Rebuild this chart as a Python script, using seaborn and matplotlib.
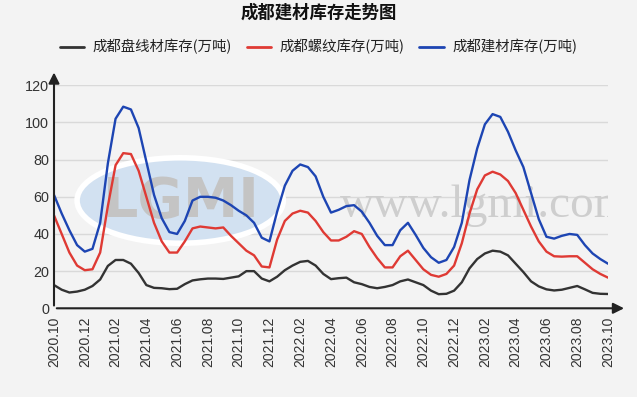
import numpy as np
import pandas as pd
import matplotlib
matplotlib.use("Agg")
import matplotlib.pyplot as plt
import seaborn as sns
from matplotlib.lines import Line2D
from matplotlib.patches import Ellipse

# tick labels, one every two months
tick_labels = ["2020.10", "2020.12", "2021.02", "2021.04", "2021.06", "2021.08",
               "2021.10", "2021.12", "2022.02", "2022.04", "2022.06", "2022.08",
               "2022.10", "2022.12", "2023.02", "2023.04", "2023.06", "2023.08",
               "2023.10"]

# readings every half month from 2020.10 to 2023.10 (万吨)
wire = [12.5, 10, 8.5, 9, 10, 12, 15.5, 22.8, 26, 26, 24, 19, 12.5, 11, 10.8, 10.3,
        10.5, 13, 15, 15.6, 16, 16, 15.8, 16.5, 17.2, 20, 20, 16, 14.5, 17, 20.5,
        23, 25, 25.5, 23, 18.5, 15.7, 16.2, 16.5, 14, 13, 11.5, 10.8, 11.5, 12.5,
        14.5, 15.5, 14, 12.5, 9.5, 7.6, 7.8, 9.5, 14, 21.5, 26.5, 29.5, 31, 30.5,
        28.5, 24, 19.5, 14.5, 11.8, 10.2, 9.6, 10, 11, 12, 10.2, 8.3, 7.8, 7.7]

rebar = [50, 40, 30, 23, 20.5, 21, 30, 55, 77, 83.5, 83, 74, 60, 46, 36, 30, 30,
         36, 43, 44, 43.5, 43, 43.5, 39, 35, 31, 28.5, 22.5, 22, 37, 47, 51, 52.5,
         51.5, 47, 41, 36.5, 36.5, 38.5, 41.5, 40, 33, 27, 22, 22, 28, 31, 26, 21,
         18, 17, 18.5, 23, 35, 51, 64, 71.5, 73.5, 72, 68.5, 62, 53, 44, 36, 30.5,
         28, 27.8, 28, 28, 24.5, 21, 18.5, 16.5]

total = [61, 51, 42, 34, 30.5, 32, 46, 78, 102, 108.5, 107, 97, 79, 61, 48.5, 41,
         40, 47, 58, 60, 60, 59.5, 58, 55.5, 52.5, 50, 46, 38, 36, 52, 66, 74, 77.4,
         76, 71, 60, 51.5, 53, 55, 55.5, 52, 46, 39, 34, 34, 42, 46, 39.5, 32.5,
         27.5, 24.5, 26, 33, 46, 69, 86, 99, 104.5, 103, 95, 85, 76, 62, 48, 38.5,
         37.5, 39, 40, 39.5, 34, 29.5, 26.5, 24]

names = ["成都盘线材库存(万吨)", "成都螺纹库存(万吨)", "成都建材库存(万吨)"]
colors = ["#333333", "#df3a34", "#1d45b3"]

months = np.arange(len(total)) * 0.5
df = pd.DataFrame({
    "month": np.tile(months, 3),
    "value": wire + rebar + total,
    "series": np.repeat(names, len(months)),
})

sns.set_theme(style="white")
plt.rcParams["font.family"] = ["Noto Sans CJK SC", "DejaVu Sans"]

bg = "#f3f3f3"
fig = plt.figure(figsize=(6.37, 3.97), dpi=100, facecolor=bg)
ax = fig.add_axes([54 / 637, 1 - 308.3 / 397, (608 - 54) / 637, 223 / 397])
ax.set_facecolor(bg)

# watermark
ax.add_patch(Ellipse((8.2, 58), 13.4, 46, facecolor="#d2e1f1", edgecolor="white",
                     lw=4, zorder=1))
ax.text(8.3, 57, "LGMI", ha="center", va="center", fontsize=40, fontweight="bold",
        family="DejaVu Sans", color="#c4c4c4", zorder=1)
ax.text(18.6, 49, "www.lgmi.com", ha="left", va="baseline", fontsize=34,
        family="Liberation Serif", color="#cecece", zorder=1, clip_on=True)

sns.lineplot(data=df, x="month", y="value", hue="series",
             palette=dict(zip(names, colors)), linewidth=1.7, legend=False,
             ax=ax, zorder=3)
for ln in ax.get_lines():
    ln.set_solid_joinstyle("round")
    ln.set_solid_capstyle("round")

ax.set_xlim(0, 36)
ax.set_ylim(0, 120)
ax.set_xticks(range(0, 37, 2))
ax.set_xticklabels(tick_labels, rotation=90, fontsize=10, family="Liberation Sans",
                   color="#333333")
ax.set_yticks(range(0, 121, 20))
ax.set_yticklabels([str(v) for v in range(0, 121, 20)], fontsize=10.4,
                   family="Liberation Sans", color="#333333")
ax.set_xlabel("")
ax.set_ylabel("")
ax.yaxis.grid(True, color="#d9d9d9", lw=1)
ax.set_axisbelow(True)
ax.tick_params(axis="x", direction="out", length=3, width=1, color="#999999", pad=3)
ax.tick_params(axis="y", direction="inout", length=5, width=1, color="#555555", pad=1)
for s in ax.spines.values():
    s.set_visible(False)

# axis lines with arrows
ax.annotate("", xy=(1.034, 0), xytext=(0, 0), xycoords="axes fraction",
            arrowprops=dict(arrowstyle="-|>", color="#222222", lw=1.5,
                            mutation_scale=16), annotation_clip=False)
ax.annotate("", xy=(0, 1.07), xytext=(0, 0), xycoords="axes fraction",
            arrowprops=dict(arrowstyle="-|>", color="#222222", lw=1.5,
                            mutation_scale=16), annotation_clip=False)

fig.text(0.5, 1 - 13 / 397, "成都建材库存走势图", ha="center", va="center",
         fontsize=12.5, fontweight="bold", color="#111111")

handles = [Line2D([0], [0], color=c, lw=2) for c in colors]
fig.legend(handles, names, loc="center", bbox_to_anchor=(0.5, 1 - 47 / 397),
           ncol=3, frameon=False, fontsize=10.4, handlelength=1.7,
           handletextpad=0.6, columnspacing=1.0, labelcolor="#222222")

fig.savefig("out.png", dpi=100, facecolor=bg)
